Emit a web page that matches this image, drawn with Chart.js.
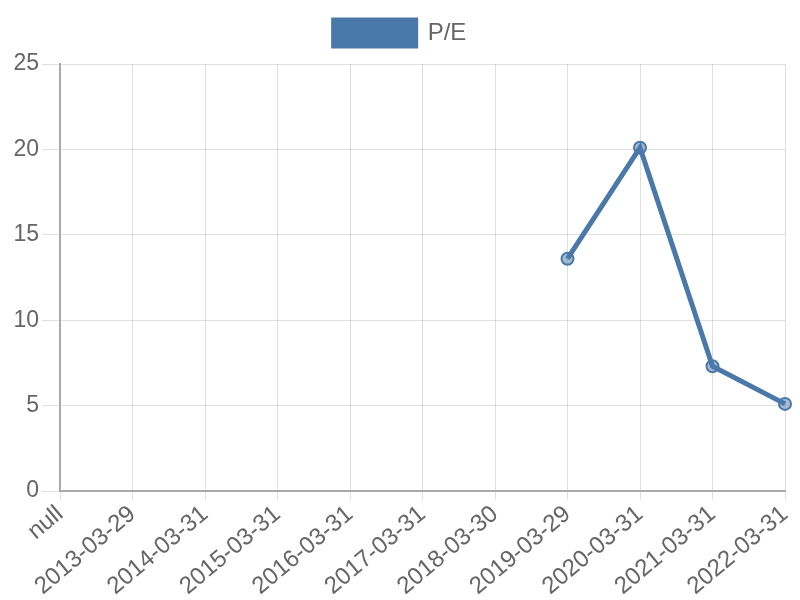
<!DOCTYPE html>
<html lang="en">
<head>
  <meta charset="UTF-8" />
  <title>P/E</title>
  <script src="https://cdn.jsdelivr.net/npm/chart.js"></script>
  <style>
    html, body { margin: 0; padding: 0; background: #fff; }
    #wrap { width: 800px; height: 600px; }
  </style>
</head>
<body>
  <div id="wrap"><canvas id="peChart"></canvas></div>
  <script>
    // Data
    const dates = ['null', '2013-03-29', '2014-03-31', '2015-03-31', '2016-03-31', '2017-03-31',
                   '2018-03-30', '2019-03-29', '2020-03-31', '2021-03-31', '2022-03-31'];
    const peValues = [null, null, null, null, null, null, null, 13.6, 20.1, 7.3, 5.1];
    const yTicks = [0, 5, 10, 15, 20, 25];

    Chart.defaults.font.family = '"Liberation Sans", Arial, sans-serif';
    Chart.defaults.font.size = 23;
    Chart.defaults.color = '#666';

    // extra room under the legend
    const legendGap = {
      id: 'legendGap',
      beforeInit(chart) {
        const fit = chart.legend.fit;
        chart.legend.fit = function () {
          fit.bind(chart.legend)();
          this.height += 8;
        };
      }
    };

    new Chart(document.getElementById('peChart'), {
      type: 'line',
      data: {
        labels: dates,
        datasets: [{
          label: 'P/E',
          data: peValues,
          borderColor: '#4a78a8',
          backgroundColor: '#4a78a8',
          pointBackgroundColor: 'rgba(74,120,168,0.5)',
          pointBorderColor: '#4a78a8',
          pointBorderWidth: 2,
          pointRadius: 6,
          borderWidth: 5,
          tension: 0,
          fill: false
        }]
      },
      options: {
        responsive: true,
        maintainAspectRatio: false,
        animation: false,
        layout: { padding: { top: 6, right: 0, left: 0, bottom: 0 } },
        plugins: {
          legend: {
            labels: { boxWidth: 82, boxHeight: 26, padding: 14, font: { size: 24 } }
          },
          tooltip: { enabled: false }
        },
        scales: {
          x: {
            grid: { color: 'rgba(0,0,0,0.12)', tickLength: 9 },
            border: { color: '#aaa', width: 2 },
            ticks: { maxRotation: 40, minRotation: 40, autoSkip: false, padding: 0, font: { size: 24 } },
            afterFit: scale => {
              scale.height = 109;
              scale.paddingRight = 15;
              scale.paddingLeft = 0;
            }
          },
          y: {
            min: yTicks[0],
            max: yTicks[yTicks.length - 1],
            grid: { color: 'rgba(0,0,0,0.12)', tickLength: 18 },
            border: { color: '#aaa', width: 2 },
            ticks: { stepSize: 5, padding: 3 },
            afterFit: scale => { scale.width = 60; }
          }
        }
      },
      plugins: [legendGap]
    });
  </script>
</body>
</html>
